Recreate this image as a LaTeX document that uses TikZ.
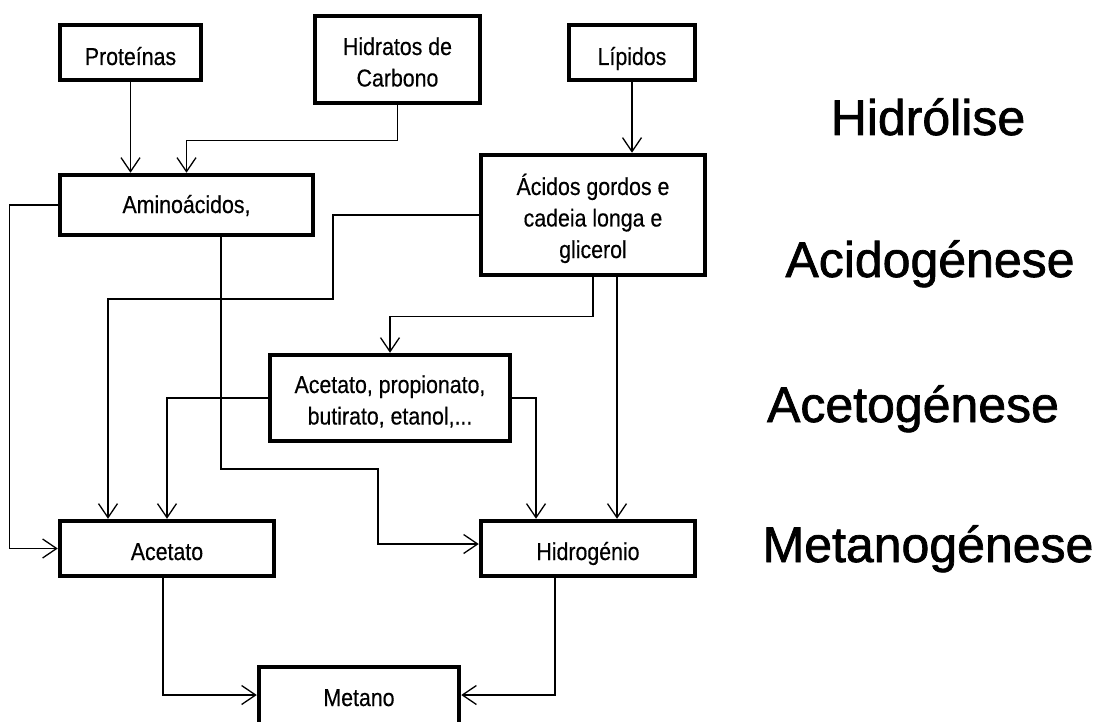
\documentclass[tikz,border=0pt]{standalone}
\usepackage{fontspec}
\setmainfont{Liberation Sans}
\newfontfamily\boxfont[FakeStretch=0.87,FakeBold=0.4]{Liberation Sans}
\newfontfamily\phasefont[FakeBold=1.4]{Liberation Sans}
\usetikzlibrary{arrows.meta,calc}

\newcommand{\lines}[1]{\begin{tabular}[t]{@{}c@{}}#1\end{tabular}}

\tikzset{
  stage/.style={draw=black, line width=4.5pt, rectangle, inner sep=0pt,
    font=\boxfont\fontsize{24.5}{31.5}\selectfont},
  flow/.style={line width=1.3pt, -{Straight Barb[length=14pt,width=19pt]}},
  phase/.style={anchor=base, inner sep=0pt, font=\phasefont\fontsize{50}{60}\selectfont}
}

\begin{document}
\begin{tikzpicture}[x=1pt, y=-1pt]
\clip (0,0) rectangle (1097,722);
\path[use as bounding box] (0,0) rectangle (1097,722);

% substrates
\node[stage, minimum width=141pt, minimum height=55pt, text height=25pt, text depth=0pt] (prot) at (130.5,52.5) {Proteínas};
\node[stage, minimum width=165pt, minimum height=87pt, text height=10pt, text depth=19pt] (hid) at (397.5,59.5) {\lines{Hidratos de\\Carbono}};
\node[stage, minimum width=126pt, minimum height=55pt, text height=25pt, text depth=0pt] (lip) at (632,52.5) {Lípidos};

% hydrolysis products
\node[stage, minimum width=253pt, minimum height=60pt, text height=16pt, text depth=0pt] (amino) at (186.5,205) {Aminoácidos,};
\node[stage, minimum width=224pt, minimum height=120pt, text height=10pt, text depth=50pt] (aci) at (593,215) {\lines{Ácidos gordos e\\cadeia longa e\\glicerol}};

% intermediates
\node[stage, minimum width=240pt, minimum height=86pt, text height=10pt, text depth=20pt] (ap) at (390,398) {\lines{Acetato, propionato,\\butirato, etanol,...}};

% acetogenesis products
\node[stage, minimum width=214pt, minimum height=55pt, text height=23pt, text depth=0pt] (acet) at (167,548.5) {Acetato};
\node[stage, minimum width=214pt, minimum height=55pt, text height=23pt, text depth=0pt] (hidro) at (588,548.5) {Hidrogénio};

% final product (runs past the lower edge)
\node[stage, minimum width=200pt, minimum height=70pt, text height=8pt, text depth=0pt] (meta) at (359,702) {Metano};

% phase labels
\node[phase] (l1) at (928,135) {Hidrólise};
\node[phase] (l2) at (930,277) {Acidogénese};
\node[phase] (l3) at (913,422) {Acetogénese};
\node[phase] (l4) at (928,562) {Metanogénese};

% routing points
\coordinate (a1) at ($(amino.south)+(34.5,0)$);
\coordinate (k1) at (378,469);
\coordinate (k2) at (333,299);
\coordinate (a2) at ($(aci.south)+(24,0)$);
\coordinate (e1) at ($(acet.south)+(-4,0)$);
\coordinate (h1) at ($(hidro.south)+(-33,0)$);

% hydrolysis
\draw[flow] (prot.south) -- (prot.south |- amino.north);
\draw[flow] (hid.south) -- ++(0,35) -| (amino.north);
\draw[flow] (lip.south) -- (lip.south |- aci.north);

% acidogenesis
\draw[flow] (amino.west) -- ++(-48,0) |- (acet.west);
\draw[flow] (a1) |- (k1) |- ($(hidro.west)+(0,-4.5)$);
\draw[flow] (aci.west) -| (k2) -| ($(acet.north)+(-59,0)$);
\draw[flow] (aci.south) -- ++(0,39) -| (ap.north);
\draw[flow] (a2) -- (a2 |- hidro.north);

% acetogenesis
\draw[flow] (ap.west) -| (acet.north);
\draw[flow] (ap.east) -| ($(hidro.north)+(-52,0)$);

% methanogenesis
\draw[flow] (e1) |- ($(meta.west)+(0,-7)$);
\draw[flow] (h1) |- ($(meta.east)+(0,-7)$);
\end{tikzpicture}
\end{document}
